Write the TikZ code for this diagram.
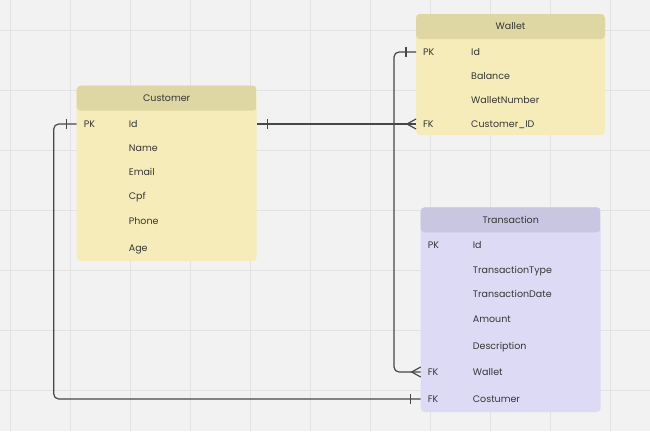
\documentclass[tikz,border=0pt]{standalone}
\usepackage{fontspec}
\setmainfont{Poppins}
\usetikzlibrary{positioning}

\definecolor{canvas}{HTML}{F2F2F2}
\definecolor{gridgray}{HTML}{E2E2E2}
\definecolor{ybody}{HTML}{F5ECB9}
\definecolor{yhead}{HTML}{DED6A3}
\definecolor{pbody}{HTML}{DDDAF5}
\definecolor{phead}{HTML}{C9C6E2}
\definecolor{ink}{HTML}{363636}
\definecolor{linkgray}{HTML}{474747}

\newcommand{\erkey}[2][45pt]{\makebox[#1][l]{#2}}

\begin{document}
\begin{tikzpicture}[x=1pt,y=-1pt,font=\fontsize{9.5}{11}\selectfont,text=ink,
    entity/.style 2 args={rounded corners=4pt,inner sep=0pt,fill=#1,
      path picture={\fill[#2] (path picture bounding box.north west)
        rectangle ([yshift=-25pt]path picture bounding box.north east);}},
    head/.style={minimum height=25pt,inner sep=0pt},
    row/.style={anchor=west,inner xsep=7pt,inner ysep=0pt,minimum height=20pt,
      align=left,text height=8pt,text depth=1pt},
    link/.style={draw=linkgray,line width=1.2pt,rounded corners=5pt}]

  \useasboundingbox (0,0) rectangle (650,431);
  \fill[canvas] (0,0) rectangle (650,431);
  \foreach \gx in {10,70,...,610}
    \draw[gridgray,line width=1pt] (\gx,0) -- (\gx,431);
  \foreach \gy in {30,90,...,390}
    \draw[gridgray,line width=1pt] (0,\gy) -- (650,\gy);

  % Wallet
  \node[entity={ybody}{yhead},minimum width=189pt,minimum height=121pt] (wallet-box) at (510.5,74.5) {};
  \node[head,below=0pt of wallet-box.north] (wallet) {Wallet};
  \node[row,text width=175pt] (wal-id) at (416,52) {\erkey[48pt]{PK}Id};
  \node[row,text width=175pt] (wal-bal) at (416,75.5) {\erkey[48pt]{}Balance};
  \node[row,text width=175pt] (wal-num) at (416,99.5) {\erkey[48pt]{}WalletNumber};
  \node[row,text width=175pt] (wal-cid) at (416,124) {\erkey[48pt]{FK}Customer\_ID};

  % Customer
  \node[entity={ybody}{yhead},minimum width=180pt,minimum height=175.3pt] (customer-box) at (166.7,173.35) {};
  \node[head,below=0pt of customer-box.north] (customer) {Customer};
  \node[row,text width=166pt] (cu-id) at (76.7,124) {\erkey{PK}Id};
  \node[row,text width=166pt] (cu-name) at (76.7,148) {\erkey{}Name};
  \node[row,text width=166pt] (cu-mail) at (76.7,172) {\erkey{}Email};
  \node[row,text width=166pt] (cu-cpf) at (76.7,196) {\erkey{}Cpf};
  \node[row,text width=166pt] (cu-phone) at (76.7,221) {\erkey{}Phone};
  \node[row,text width=166pt] (cu-age) at (76.7,247.5) {\erkey{}Age};

  % Transaction
  \node[entity={pbody}{phead},minimum width=180pt,minimum height=204.7pt] (transaction-box) at (510.7,309.65) {};
  \node[head,below=0pt of transaction-box.north] (transaction) {Transaction};
  \node[row,text width=166pt] (tr-id) at (420.7,245) {\erkey{PK}Id};
  \node[row,text width=166pt] (tr-type) at (420.7,269.5) {\erkey{}TransactionType};
  \node[row,text width=166pt] (tr-date) at (420.7,293.5) {\erkey{}TransactionDate};
  \node[row,text width=166pt] (tr-amt) at (420.7,318.5) {\erkey{}Amount};
  \node[row,text width=166pt] (tr-desc) at (420.7,345.5) {\erkey{}Description};
  \node[row,text width=166pt] (tr-wal) at (420.7,372) {\erkey{FK}Wallet};
  \node[row,text width=166pt] (tr-cos) at (420.7,399) {\erkey{FK}Costumer};

  % relations
  \draw[link] (cu-id.east) -- (wal-cid.west);
  \draw[link] (wal-id.west) -- ++(-22,0) |- (tr-wal.west);
  \draw[link] (cu-id.west) -- ++(-23,0) |- (tr-cos.west);

  % one / many marks
  \draw[link] ([xshift=10pt]cu-id.east) ++(0,-5) -- ++(0,10);
  \draw[link] ([xshift=-10pt]wal-id.west) ++(0,-5) -- ++(0,10);
  \draw[link] ([xshift=-10pt]cu-id.west) ++(0,-5) -- ++(0,10);
  \draw[link] ([xshift=-10pt]tr-cos.west) ++(0,-5) -- ++(0,10);
  \draw[link,rounded corners=0pt] (wal-cid.west) ++(0,-5) -- ++(-9,5) -- ++(9,5);
  \draw[link,rounded corners=0pt] (tr-wal.west) ++(0,-5) -- ++(-9,5) -- ++(9,5);
\end{tikzpicture}
\end{document}
